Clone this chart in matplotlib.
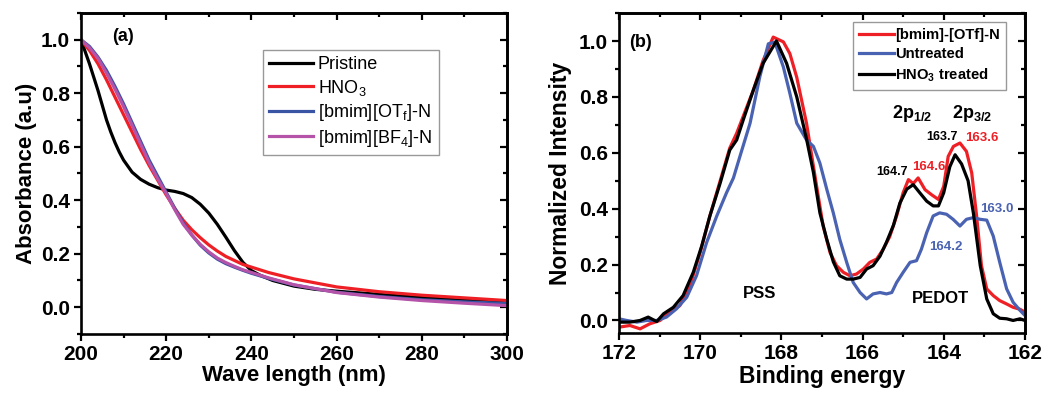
import matplotlib
matplotlib.use("Agg")
import matplotlib.pyplot as plt
from matplotlib.ticker import MultipleLocator

plt.rcParams['font.family'] = ['Liberation Sans', 'DejaVu Sans']
plt.rcParams['mathtext.fontset'] = 'custom'
plt.rcParams['mathtext.rm'] = 'Liberation Sans'
plt.rcParams['mathtext.bf'] = 'Liberation Sans:bold'
plt.rcParams['mathtext.default'] = 'regular'

# ---------- Panel (a) data: UV-vis absorbance ----------
wl_pristine = [200, 201, 202, 203, 204, 205, 206, 207, 208, 209, 210, 212, 214, 216, 218, 220,
               222, 224, 226, 228, 230, 232, 234, 236, 238, 240, 242, 245, 250, 255, 260, 270,
               280, 290, 300]
abs_pristine = [1.0, 0.955, 0.91, 0.86, 0.81, 0.755, 0.70, 0.655, 0.615, 0.58, 0.55, 0.505,
                0.478, 0.46, 0.447, 0.438, 0.433, 0.425, 0.41, 0.385, 0.352, 0.31, 0.262,
                0.212, 0.168, 0.137, 0.12, 0.1, 0.079, 0.067, 0.06, 0.048, 0.036, 0.026, 0.018]

wl_hno3 = [200, 202, 204, 206, 208, 210, 212, 214, 216, 218, 220, 222, 224, 226, 228, 230,
           232, 234, 236, 238, 240, 244, 250, 260, 270, 280, 290, 300]
abs_hno3 = [1.0, 0.96, 0.91, 0.85, 0.785, 0.72, 0.655, 0.59, 0.53, 0.475, 0.42, 0.37, 0.325,
            0.29, 0.26, 0.233, 0.21, 0.19, 0.175, 0.16, 0.15, 0.13, 0.106, 0.076, 0.058,
            0.045, 0.035, 0.025]

wl_otf = [200, 202, 204, 206, 208, 210, 212, 214, 216, 218, 220, 222, 224, 226, 228, 230,
          232, 234, 236, 238, 240, 244, 250, 260, 270, 280, 290, 300]
abs_otf = [1.0, 0.975, 0.935, 0.885, 0.825, 0.76, 0.69, 0.62, 0.55, 0.49, 0.43, 0.37, 0.315,
           0.27, 0.232, 0.203, 0.18, 0.163, 0.15, 0.138, 0.127, 0.108, 0.083, 0.056, 0.04,
           0.028, 0.02, 0.014]

wl_bf4 = [200, 202, 204, 206, 208, 210, 212, 214, 216, 218, 220, 222, 224, 226, 228, 230,
          232, 234, 236, 238, 240, 244, 250, 260, 270, 280, 290, 300]
abs_bf4 = [1.0, 0.97, 0.93, 0.875, 0.815, 0.75, 0.68, 0.61, 0.54, 0.48, 0.425, 0.365, 0.31,
           0.27, 0.235, 0.207, 0.184, 0.167, 0.153, 0.14, 0.13, 0.11, 0.084, 0.055, 0.038,
           0.025, 0.015, 0.006]

# ---------- Panel (b) data: XPS S2p ----------
be_red = [172.0, 171.73, 171.48, 171.24, 170.99, 170.74, 170.5, 170.25, 170.0, 169.76, 169.51,
          169.27, 169.1, 168.94, 168.69, 168.45, 168.2, 167.95, 167.79, 167.62, 167.38, 167.13,
          166.97, 166.8, 166.64, 166.47, 166.31, 166.15, 165.98, 165.82, 165.65, 165.49, 165.33,
          165.16, 165.0, 164.87, 164.75, 164.63, 164.46, 164.3, 164.13, 164.0, 163.89, 163.76,
          163.6, 163.44, 163.31, 163.19, 163.07, 162.94, 162.78, 162.62, 162.45, 162.29, 162.12, 162.0]
int_red = [-0.024, -0.018, -0.03, -0.012, 0.0, 0.03, 0.053, 0.125, 0.243, 0.374, 0.498,
           0.617, 0.67, 0.73, 0.824, 0.93, 1.014, 0.997, 0.955, 0.87, 0.706, 0.48,
           0.338, 0.243, 0.196, 0.172, 0.16, 0.166, 0.184, 0.208, 0.22, 0.255, 0.30,
           0.374, 0.457, 0.504, 0.49, 0.51, 0.468, 0.45, 0.433, 0.48, 0.587, 0.623,
           0.635, 0.605, 0.528, 0.374, 0.196, 0.113, 0.089, 0.071, 0.059, 0.047, 0.04, 0.03]

be_blue = [172.0, 171.81, 171.56, 171.32, 171.07, 170.83, 170.58, 170.33, 170.09, 169.84, 169.59,
           169.35, 169.18, 169.02, 168.77, 168.53, 168.32, 168.16, 167.95, 167.79, 167.62, 167.38,
           167.21, 167.05, 166.88, 166.72, 166.56, 166.39, 166.23, 166.06, 165.9, 165.74, 165.57,
           165.41, 165.28, 165.16, 165.0, 164.83, 164.67, 164.55, 164.42, 164.26, 164.1, 163.93,
           163.77, 163.6, 163.44, 163.27, 163.1, 162.94, 162.78, 162.62, 162.45, 162.29, 162.12, 162.0]
int_blue = [0.006, 0.0, -0.006, 0.0, 0.0, 0.012, 0.042, 0.083, 0.16, 0.279, 0.374,
            0.457, 0.51, 0.587, 0.706, 0.872, 0.99, 0.996, 0.907, 0.813, 0.706, 0.646,
            0.623, 0.563, 0.469, 0.385, 0.29, 0.208, 0.136, 0.10, 0.077, 0.095, 0.10,
            0.095, 0.10, 0.136, 0.172, 0.208, 0.214, 0.255, 0.314, 0.374, 0.385, 0.38,
            0.362, 0.338, 0.362, 0.368, 0.362, 0.359, 0.302, 0.208, 0.113, 0.065, 0.036, 0.018]

be_black = [172.0, 171.73, 171.48, 171.28, 171.07, 170.9, 170.66, 170.42, 170.17, 169.96, 169.76,
            169.51, 169.27, 169.1, 168.94, 168.69, 168.45, 168.12, 167.87, 167.62, 167.38, 167.21,
            167.05, 166.88, 166.72, 166.56, 166.39, 166.23, 166.06, 165.9, 165.74, 165.57, 165.41,
            165.24, 165.08, 164.91, 164.75, 164.59, 164.42, 164.26, 164.13, 164.0, 163.85, 163.72,
            163.56, 163.4, 163.27, 163.1, 162.94, 162.78, 162.62, 162.45, 162.29, 162.12, 162.0]
int_black = [-0.006, -0.006, 0.0, 0.012, -0.004, 0.024, 0.047, 0.089, 0.172, 0.267, 0.374,
             0.49, 0.61, 0.646, 0.717, 0.824, 0.92, 1.0, 0.92, 0.80, 0.65, 0.53,
             0.385, 0.29, 0.21, 0.16, 0.148, 0.148, 0.154, 0.184, 0.196, 0.23, 0.28,
             0.34, 0.42, 0.47, 0.486, 0.457, 0.427, 0.41, 0.41, 0.457, 0.55, 0.593,
             0.56, 0.50, 0.385, 0.196, 0.077, 0.024, 0.008, 0.006, 0.0, 0.006, 0.0]

RED = '#ee2026'
BLUE_A = '#3a54a4'
MAG = '#b553a8'
BLUE_B = '#4a62b2'

fig = plt.figure(figsize=(10.42, 3.96), dpi=100)
axa = fig.add_axes([0.0777, 0.1566, 0.4089, 0.8106])
axb = fig.add_axes([0.594, 0.159, 0.3896, 0.808])


def style(ax):
    for s in ax.spines.values():
        s.set_linewidth(1.9)
    # bottom/left ticks point outward, mirrored top/right ticks point inward
    ax.tick_params(which='both', direction='out', width=1.6, top=False, right=False)
    ax.tick_params(which='major', length=5, labelsize=15, pad=3)
    ax.tick_params(which='minor', length=3)
    for lab in ax.get_xticklabels() + ax.get_yticklabels():
        lab.set_fontweight('bold')
    tw = ax.secondary_xaxis('top')
    tw.set_xticks(ax.get_xticks())
    tw.xaxis.set_minor_locator(ax.xaxis.get_minor_locator())
    tw.tick_params(which='both', direction='in', labeltop=False, width=1.6)
    tw.tick_params(which='major', length=5)
    tw.tick_params(which='minor', length=3)
    tw.spines['top'].set_linewidth(1.9)
    rw = ax.secondary_yaxis('right')
    rw.set_yticks(ax.get_yticks())
    rw.yaxis.set_minor_locator(ax.yaxis.get_minor_locator())
    rw.tick_params(which='both', direction='in', labelright=False, width=1.6)
    rw.tick_params(which='major', length=5)
    rw.tick_params(which='minor', length=3)
    rw.spines['right'].set_linewidth(1.9)


lw = 2.3
axa.plot(wl_pristine, abs_pristine, color='black', lw=lw, label='Pristine')
axa.plot(wl_hno3, abs_hno3, color=RED, lw=lw, label='HNO$_3$')
axa.plot(wl_otf, abs_otf, color=BLUE_A, lw=lw, label='[bmim][OT$_f$]-N')
axa.plot(wl_bf4, abs_bf4, color=MAG, lw=lw, label='[bmim][BF$_4$]-N')
axa.set_xlim(200, 300)
axa.set_ylim(-0.1, 1.1)
axa.xaxis.set_major_locator(MultipleLocator(20))
axa.xaxis.set_minor_locator(MultipleLocator(10))
axa.yaxis.set_major_locator(MultipleLocator(0.2))
axa.yaxis.set_minor_locator(MultipleLocator(0.1))
axa.set_xlabel('Wave length (nm)', fontsize=16, fontweight='bold', labelpad=1)
axa.set_ylabel('Absorbance (a.u)', fontsize=16, fontweight='bold', labelpad=3)
style(axa)
axa.text(0.098, 0.928, '(a)', transform=axa.transAxes, fontsize=13, fontweight='bold',
         ha='center', va='center')
leg = axa.legend(loc='upper left', bbox_to_anchor=(0.427, 0.885), fontsize=13, frameon=True,
                 fancybox=False, edgecolor='#808080', handlelength=2.4, handletextpad=0.3,
                 labelspacing=0.25, borderpad=0.35, borderaxespad=0)
leg.get_frame().set_linewidth(1.0)

axb.plot(be_red, int_red, color=RED, lw=lw, label='[bmim]-[OTf]-N')
axb.plot(be_blue, int_blue, color=BLUE_B, lw=lw, label='Untreated')
axb.plot(be_black, int_black, color='black', lw=lw, label='HNO$_3$ treated')
axb.set_xlim(172, 162)
axb.set_ylim(-0.045, 1.1)
axb.xaxis.set_major_locator(MultipleLocator(2))
axb.xaxis.set_minor_locator(MultipleLocator(1))
axb.yaxis.set_major_locator(MultipleLocator(0.2))
axb.yaxis.set_minor_locator(MultipleLocator(0.1))
axb.set_xlabel('Binding energy', fontsize=16.5, fontweight='bold', labelpad=1)
axb.set_ylabel('Normalized Intensity', fontsize=16.5, fontweight='bold', labelpad=5)
style(axb)
axb.text(0.054, 0.909, '(b)', transform=axb.transAxes, fontsize=13, fontweight='bold',
         ha='center', va='center')
legb = axb.legend(loc='upper left', bbox_to_anchor=(0.576, 0.972),
                  prop={'size': 10.6, 'weight': 'bold'}, frameon=True, fancybox=False,
                  edgecolor='#808080', handlelength=2.4, handletextpad=0.1,
                  labelspacing=0.35, borderpad=0.4, borderaxespad=0)
legb.get_frame().set_linewidth(1.0)

axb.text(168.53, 0.095, 'PSS', fontsize=12, fontweight='bold', ha='center', va='center')
axb.text(164.09, 0.077, 'PEDOT', fontsize=12, fontweight='bold', ha='center', va='center')
axb.text(164.78, 0.74, r'$\mathbf{2p_{1/2}}$', fontsize=13, ha='center', va='center')
axb.text(163.3, 0.74, r'$\mathbf{2p_{3/2}}$', fontsize=13, ha='center', va='center')
axb.text(164.04, 0.657, '163.7', fontsize=9, fontweight='bold', color='black', ha='center', va='center')
axb.text(163.06, 0.652, '163.6', fontsize=9.5, fontweight='bold', color=RED, ha='center', va='center')
axb.text(165.28, 0.533, '164.7', fontsize=9, fontweight='bold', color='black', ha='center', va='center')
axb.text(164.36, 0.55, '164.6', fontsize=9.5, fontweight='bold', color=RED, ha='center', va='center')
axb.text(162.69, 0.40, '163.0', fontsize=9.5, fontweight='bold', color=BLUE_B, ha='center', va='center')
axb.text(163.95, 0.262, '164.2', fontsize=9.5, fontweight='bold', color=BLUE_B, ha='center', va='center')

fig.savefig('out.png', dpi=100)
